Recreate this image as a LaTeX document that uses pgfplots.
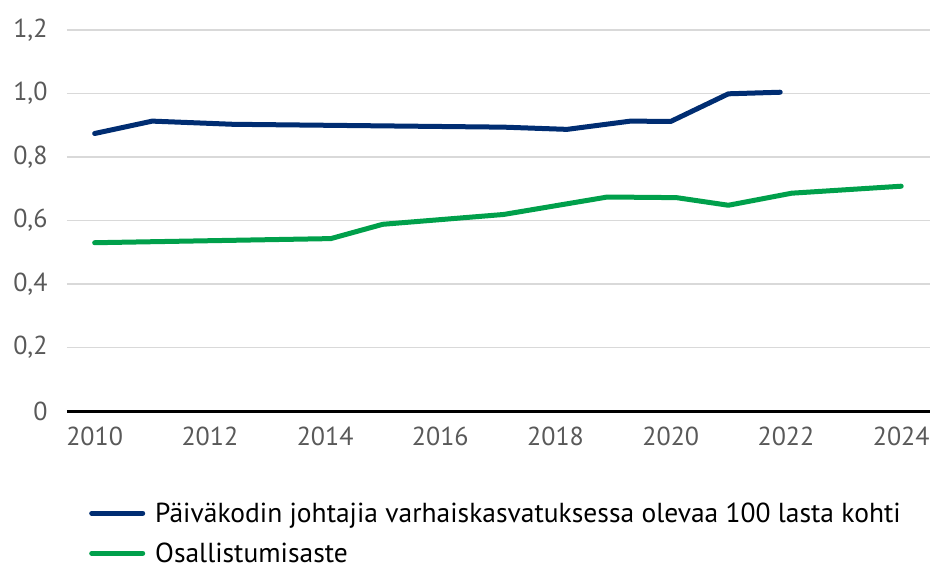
\documentclass[border=0pt]{standalone}
\usepackage{pgfplots}
\pgfplotsset{compat=1.18}
\usepackage{fontspec}
\setmainfont{PT Sans}
\definecolor{navy}{HTML}{002D72}
\definecolor{grn}{HTML}{00A04B}
\definecolor{tickgray}{HTML}{595959}
\definecolor{gridgray}{HTML}{D9D9D9}
\begin{document}
\begin{tikzpicture}
\path[use as bounding box] (-67bp,-159bp) rectangle (863bp,411bp);
\begin{axis}[
  at={(0,0)}, anchor=origin,
  scale only axis,
  width=863bp, height=381bp,
  xmin=2009.52, xmax=2024.5,
  ymin=0, ymax=1.2,
  axis x line=bottom, axis y line=left,
  axis line style={draw=none},
  xtick={2010,2012,...,2024},
  xticklabels={2010,2012,2014,2016,2018,2020,2022,2024},
  ytick={0,0.2,0.4,0.6,0.8,1.0,1.2},
  yticklabels={0,{0,2},{0,4},{0,6},{0,8},{1,0},{1,2}},
  ymajorgrids,
  grid style={gridgray, line width=1.5bp},
  major tick length=0pt,
  tick style={draw=none},
  tick label style={font=\fontsize{26bp}{30bp}\selectfont, text=tickgray},
  yticklabel style={anchor=east, xshift=-16bp},
  xticklabel style={anchor=north, yshift=-12bp},
  clip=false,
  legend cell align=left,
  legend style={draw=none, fill=none, at={(0.0255,-0.235)}, anchor=north west,
    font=\fontsize{27.5bp}{30bp}\selectfont, row sep=15bp, inner sep=0pt,
    /tikz/every odd column/.append style={column sep=8bp}},
  legend image code/.code={\draw[#1, line cap=round] (2bp,0bp) -- (53bp,0bp);},
]
\draw[black, line width=3bp] (axis cs:2009.52,0) -- (axis cs:2024.5,0);
\addplot[navy, line width=5bp, line join=round, line cap=round] coordinates {
 (2010,0.874) (2011,0.913) (2012.4,0.903) (2017.1,0.894) (2018.2,0.887)
 (2019.3,0.913) (2020.0,0.912) (2021.0,0.999) (2021.9,1.004)
};
\addlegendentry{Päiväkodin johtajia varhaiskasvatuksessa olevaa 100 lasta kohti}
\addplot[grn, line width=5bp, line join=round, line cap=round] coordinates {
 (2010,0.530) (2014.1,0.543) (2015.0,0.588) (2017.1,0.619) (2018.9,0.674)
 (2020.1,0.672) (2021.0,0.648) (2022.1,0.686) (2024,0.708)
};
\addlegendentry{Osallistumisaste}
\end{axis}
\end{tikzpicture}
\end{document}
